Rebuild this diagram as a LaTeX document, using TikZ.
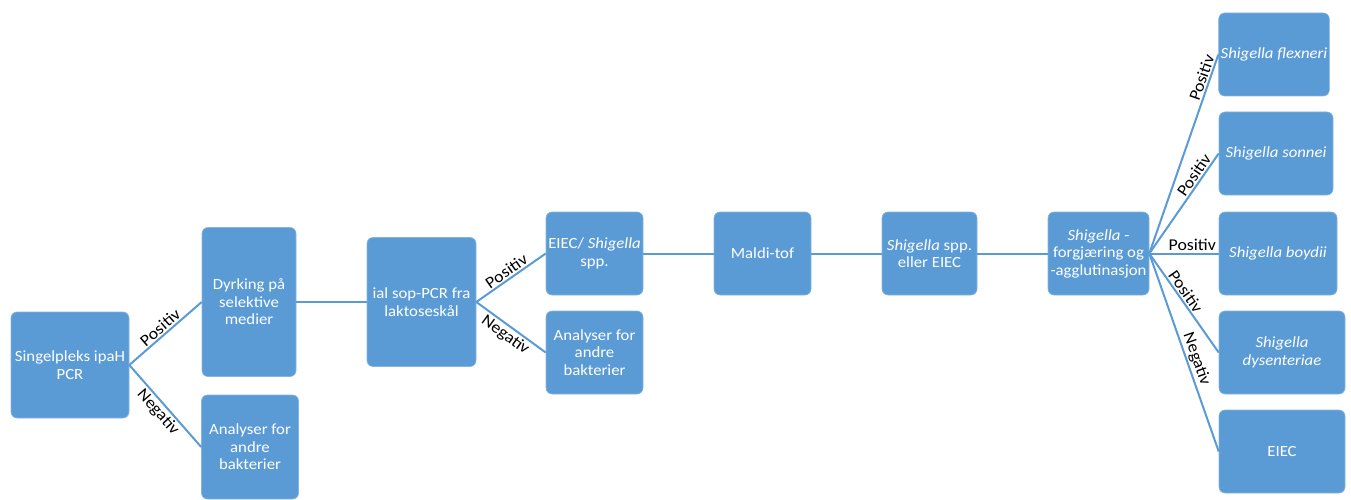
\documentclass[tikz,border=0pt]{standalone}
\usepackage{fontspec}
\setmainfont{Carlito}[FakeStretch=1.08]
\usepackage{xcolor}
\usepackage{tikz}
\definecolor{flowblue}{HTML}{5B9BD5}
\newcommand{\boxfont}{\fontsize{15.5}{17.5}\selectfont}
\newcommand{\lblfont}{\fontsize{16.5}{18}\selectfont}
\newcommand{\shig}{\textit{Shigella}}

\begin{document}
\begin{tikzpicture}[x=1pt, y=-1pt,
  fbox/.style={rectangle, fill=flowblue, draw=flowblue!75!white, line width=0.6pt,
    rounded corners=6pt, minimum width=97pt, minimum height=83pt, inner sep=2pt,
    align=center, text=white, font=\boxfont},
  lnk/.style={draw=flowblue, line width=2pt},
  lbl/.style={font=\lblfont, text=black, inner sep=1.5pt, sloped}
]
  \useasboundingbox (0,0) rectangle (1351,500);

  \node[fbox, minimum width=118pt, minimum height=106pt] (sing) at (70,365)   {Singelpleks ipaH\\PCR};
  \node[fbox, minimum width=94pt, minimum height=149pt]  (dyrk) at (249,302)  {Dyrking på\\selektive\\medier};
  \node[fbox, minimum height=104pt]                      (ana1) at (250,447)  {Analyser for\\andre\\bakterier};
  \node[fbox, minimum width=109pt, minimum height=129pt] (ial)  at (421.5,302) {ial sop-PCR fra\\laktoseskål};
  \node[fbox] (eiec1) at (594.5,253.5) {EIEC/ \shig\\spp.};
  \node[fbox] (ana2)  at (594.5,352.5) {Analyser for\\andre\\bakterier};
  \node[fbox] (maldi) at (762.5,253.5) {Maldi-tof};
  \node[fbox, minimum width=95pt]  (spp)  at (929.5,253.5)  {\shig{} spp.\\eller EIEC};
  \node[fbox, minimum width=101pt] (ferm) at (1098.5,253.5) {\shig{} -\\forgjæring og\\-agglutinasjon};

  \node[fbox, minimum width=110pt] (flex)  at (1274,54.5)  {\textit{Shigella flexneri}};
  \node[fbox, minimum width=114pt] (sonn)  at (1276,153.5) {\textit{Shigella sonnei}};
  \node[fbox, minimum width=118pt] (boyd)  at (1278,253.5) {\textit{Shigella boydii}};
  \node[fbox, minimum width=126pt] (dys)   at (1282,352.5) {\textit{Shigella}\\\textit{dysenteriae}};
  \node[fbox, minimum width=126pt] (eiec2) at (1282,451.5) {EIEC};

  \draw[lnk] (sing.east) -- node[lbl, midway, above] {Positiv} (dyrk.west);
  \draw[lnk] (sing.east) -- node[lbl, midway, below] {Negativ} (ana1.west);
  \draw[lnk] (dyrk.east) -- (ial.west);
  \draw[lnk] (ial.east)  -- node[lbl, midway, above] {Positiv} (eiec1.west);
  \draw[lnk] (ial.east)  -- node[lbl, midway, below] {Negativ} (ana2.west);
  \draw[lnk] (eiec1.east) -- (maldi.west);
  \draw[lnk] (maldi.east) -- (spp.west);
  \draw[lnk] (spp.east)   -- (ferm.west);

  \draw[lnk] (ferm.east) -- node[lbl, pos=0.87, above] {Positiv} (flex.west);
  \draw[lnk] (ferm.east) -- node[lbl, pos=0.74, above] {Positiv} (sonn.west);
  \draw[lnk] (ferm.east) -- node[lbl, pos=0.62, above] {Positiv} (boyd.west);
  \draw[lnk] (ferm.east) -- node[lbl, pos=0.43, above] {Positiv} (dys.west);
  \draw[lnk] (ferm.east) -- node[lbl, pos=0.55, above] {Negativ} (eiec2.west);
\end{tikzpicture}
\end{document}
